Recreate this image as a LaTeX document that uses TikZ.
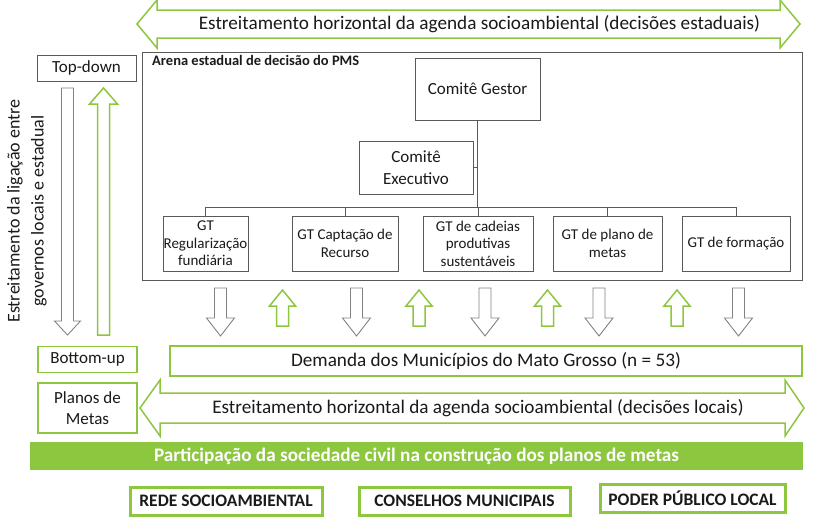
\documentclass[tikz,border=0pt]{standalone}
\usepackage{fontspec}
\setmainfont{Carlito}
\definecolor{pgreen}{RGB}{141,198,63}
\definecolor{boxline}{RGB}{89,89,89}
\definecolor{arrgray}{RGB}{130,130,130}
\definecolor{txt}{RGB}{26,26,26}
\newcommand\fs[2]{\fontsize{#1}{#2}\selectfont}
% down arrow: x, ytop, ybase, ytip, shaft half, head half
\newcommand\myDownArr[7]{\draw[#7] (#1-#5,#2) -- (#1+#5,#2) -- (#1+#5,#3) -- (#1+#6,#3) -- (#1,#4) -- (#1-#6,#3) -- (#1-#5,#3) -- cycle;}
% up arrow: x, ybottom, ybase, ytip, shaft half, head half
\newcommand\myUpArr[7]{\draw[#7] (#1-#5,#2) -- (#1+#5,#2) -- (#1+#5,#3) -- (#1+#6,#3) -- (#1,#4) -- (#1-#6,#3) -- (#1-#5,#3) -- cycle;}
% double arrow: xl tip, xl base, xr base, xr tip, yc, shaft half, head half
\newcommand\myDblArr[7]{\draw[greenarrow] (#1,#5) -- (#2,#5-#7) -- (#2,#5-#6) -- (#3,#5-#6) -- (#3,#5-#7) -- (#4,#5) -- (#3,#5+#7) -- (#3,#5+#6) -- (#2,#5+#6) -- (#2,#5+#7) -- cycle;}
\begin{document}
\begin{tikzpicture}[x=1pt,y=-1pt,
  every node/.style={text=txt, inner sep=0pt},
  box/.style={draw=boxline, line width=0.9pt, fill=white, align=center, font=\fs{15}{17.5}},
  gbox/.style={draw=pgreen, line width=1.5pt, fill=white, align=center},
  bbox/.style={draw=pgreen, line width=3pt, fill=white, font=\bfseries\fs{17.5}{20}},
  grayarrow/.style={draw=arrgray, line width=0.9pt, fill=white},
  greenarrow/.style={draw=pgreen, line width=1.5pt, fill=white},
  conn/.style={draw=boxline, line width=0.9pt}]
\useasboundingbox (0,0) rectangle (830,523);

% top double arrow
\myDblArr{137}{157}{780}{800}{24}{14}{24}
\node[font=\fs{19.2}{22}] (topdbl) at (479.5,24) {Estreitamento horizontal da agenda socioambiental (decisões estaduais)};

% left side
\node[box, minimum width=99pt, minimum height=26pt, font=\fs{17}{20}] (topdown) at (86.5,68) {Top-down};
\myDownArr{67.5}{88}{321}{335}{6}{13}{grayarrow}
\myUpArr{103.5}{335}{104}{88}{6}{14}{greenarrow}
\node[rotate=90, align=center, font=\fs{18}{24}] (vert) at (27,211) {Estreitamento da ligação entre\\governos locais e estadual};

% arena
\node[draw=boxline, line width=0.9pt, minimum width=660pt, minimum height=228pt] (arena) at (472,166) {};
\node[anchor=north west, font=\bfseries\fs{14.5}{16}] (arenalbl) at (152,55) {Arena estadual de decisão do PMS};

\node[box, minimum width=125pt, minimum height=62pt, font=\fs{17}{20}] (gestor) at (477.5,89) {Comitê Gestor};
\node[box, minimum width=114pt, minimum height=53pt, font=\fs{17}{22}] (exec) at (416,167.5) {Comitê\\Executivo};

\node[box, minimum width=85pt, minimum height=55pt] (gt1) at (205.5,243.5) {GT\\Regularização\\fundiária};
\node[box, minimum width=106pt, minimum height=55pt] (gt2) at (345,243.5) {GT Captação de\\Recurso};
\node[box, minimum width=110pt, minimum height=55pt] (gt3) at (478,243.5) {GT de cadeias\\produtivas\\sustentáveis};
\node[box, minimum width=109pt, minimum height=55pt] (gt4) at (607.5,243.5) {GT de plano de\\metas};
\node[box, minimum width=108pt, minimum height=55pt] (gt5) at (736,243.5) {GT de formação};

\coordinate (bus) at (477.5,207);
\coordinate (execj) at (477.5,167.5);
\draw[conn] (gestor.south) -- (bus);
\draw[conn] (exec.east) -- (execj);
\draw[conn] (gt1.north |- bus) -- (gt5.north |- bus);
\foreach \g in {gt1,gt2,gt3,gt4,gt5} \draw[conn] (\g.north |- bus) -- (\g.north);

% arrow row
\foreach \x in {220.5,356.5,485,599,738.5} {\myDownArr{\x}{288}{318}{336}{6}{14}{grayarrow}}
\foreach \x in {282.5,419,547.5,677} {\myUpArr{\x}{326}{306}{290}{6}{13}{greenarrow}}

% lower boxes
\node[gbox, minimum width=99pt, minimum height=26pt, font=\fs{17}{20}] (bottomup) at (87.5,359.5) {Bottom-up};
\node[gbox, minimum width=632pt, minimum height=30pt, font=\fs{19.2}{22}] (demanda) at (486,361) {Demanda dos Municípios do Mato Grosso (n = 53)};
\node[gbox, minimum width=99pt, minimum height=50pt, font=\fs{17}{21}] (planos) at (87.5,408) {Planos de\\Metas};

\myDblArr{140}{160}{785}{804}{408}{15}{28}
\node[font=\fs{19.2}{22}] (botdbl) at (478,408) {Estreitamento horizontal da agenda socioambiental (decisões locais)};

% band
\node[fill=pgreen, minimum width=773pt, minimum height=28pt, text=white, font=\bfseries\fs{19.2}{22}] (band) at (416.5,456) {Participação da sociedade civil na construção dos planos de metas};

\node[bbox, minimum width=192pt, minimum height=28pt] (rede) at (226,501) {REDE SOCIOAMBIENTAL};
\node[bbox, minimum width=211pt, minimum height=28pt] (cons) at (464.5,501) {CONSELHOS MUNICIPAIS};
\node[bbox, minimum width=185pt, minimum height=28pt] (poder) at (692.5,498) {PODER PÚBLICO LOCAL};
\end{tikzpicture}
\end{document}
